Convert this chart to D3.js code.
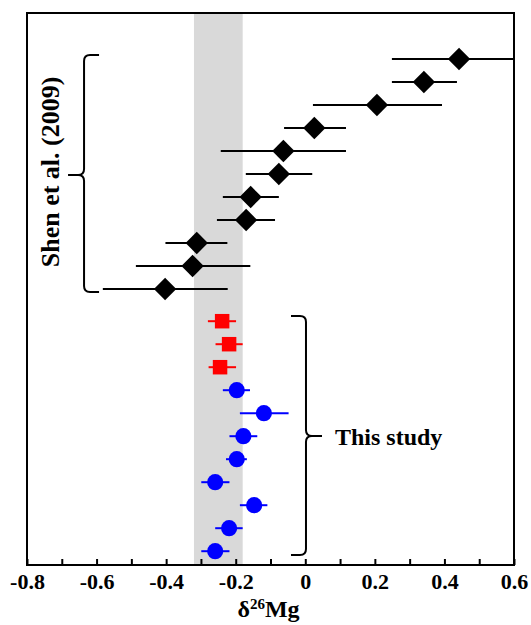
<!DOCTYPE html>
<html>
<head>
<meta charset="utf-8">
<script src="https://cdn.jsdelivr.net/npm/d3@7/dist/d3.min.js"></script>
<style>
  body { margin: 0; background: #fff; }
  text { font-family: "Liberation Serif", "Times New Roman", serif; font-weight: bold; }
</style>
</head>
<body>
<div id="main-container"></div>
<script>
// DATA (row = vertical slot, top to bottom)
const shenRows = [1, 2, 3, 4, 5, 6, 7, 8, 9, 10, 11];
const shenMean = [0.442, 0.341, 0.206, 0.026, -0.063, -0.076, -0.157, -0.170, -0.312, -0.324, -0.403];
const shenLow  = [0.249, 0.249, 0.022, -0.061, -0.243, -0.171, -0.237, -0.254, -0.402, -0.487, -0.582];
const shenHigh = [0.640, 0.436, 0.393, 0.117, 0.117, 0.020, -0.076, -0.087, -0.224, -0.158, -0.223];

const squareRows = [12.4, 13.4, 14.4];
const squareMean = [-0.239, -0.219, -0.245];
const squareLow  = [-0.280, -0.258, -0.278];
const squareHigh = [-0.199, -0.180, -0.199];

const circleRows = [15.4, 16.4, 17.4, 18.4, 19.4, 20.4, 21.4, 22.4];
const circleMean = [-0.197, -0.119, -0.178, -0.197, -0.259, -0.147, -0.219, -0.259];
const circleLow  = [-0.237, -0.188, -0.218, -0.228, -0.299, -0.188, -0.259, -0.299];
const circleHigh = [-0.159, -0.048, -0.138, -0.168, -0.218, -0.109, -0.180, -0.218];

const band = [-0.32, -0.18];
const xTicks = [-0.8, -0.7, -0.6, -0.5, -0.4, -0.3, -0.2, -0.1, 0, 0.1, 0.2, 0.3, 0.4, 0.5, 0.6];
const xLabels = ["-0.8", "", "-0.6", "", "-0.4", "", "-0.2", "", "0", "", "0.2", "", "0.4", "", "0.6"];

// bracket annotations: [x, topRow, midRow, bottomRow]
const shenBracket = [-0.636, 0.83, 6.04, 11.13];
const studyBracket = [0.002, 12.17, 17.39, 22.57];

// CONSTANTS
const margin = {top: 13, right: 17, bottom: 60, left: 27},
    width = 531 - margin.left - margin.right,
    height = 625 - margin.top - margin.bottom;

const svg = d3.select("#main-container")
    .append("svg")
        .attr("width", 531)
        .attr("height", 625)
    .append("g")
        .attr("transform", `translate(${margin.left}, ${margin.top})`);

const x = d3.scaleLinear().domain([-0.8, 0.6]).range([0, width]);
const y = d3.scaleLinear().domain([-1, 23]).range([0, height]);

svg.append("clipPath")
    .attr("id", "plot-clip")
  .append("rect")
    .attr("width", width)
    .attr("height", height);

const plot = svg.append("g").attr("clip-path", "url(#plot-clip)");

// grey band
plot.append("rect")
    .attr("x", x(band[0]))
    .attr("y", 0)
    .attr("width", x(band[1]) - x(band[0]))
    .attr("height", height)
    .attr("fill", "#d9d9d9");

function drawSeries(rows, mean, low, high, colour, shape, rot) {
    const data = rows.map((r, i) => ({row: r, mean: mean[i], low: low[i], high: high[i]}));
    plot.selectAll(null)
        .data(data)
        .enter()
        .append("line")
            .attr("x1", (d) => x(d.low))
            .attr("x2", (d) => x(d.high))
            .attr("y1", (d) => y(d.row))
            .attr("y2", (d) => y(d.row))
            .attr("stroke", colour)
            .attr("stroke-width", 2);
    plot.selectAll(null)
        .data(data)
        .enter()
        .append("path")
            .attr("d", shape)
            .attr("transform", (d) => `translate(${x(d.mean)}, ${y(d.row)})` + (rot ? " rotate(45)" : ""))
            .attr("fill", colour);
}

drawSeries(shenRows, shenMean, shenLow, shenHigh, "#000", d3.symbol(d3.symbolSquare, 250)(), true);
drawSeries(squareRows, squareMean, squareLow, squareHigh, "#ff0000", d3.symbol(d3.symbolSquare, 210)(), false);
drawSeries(circleRows, circleMean, circleLow, circleHigh, "#0000ff", d3.symbol(d3.symbolCircle, 205)(), false);

// axis
const xAxis = svg.append("g")
    .attr("transform", `translate(0, ${height})`)
    .call(d3.axisBottom(x)
        .tickValues(xTicks)
        .tickSize(-6)
        .tickPadding(8)
        .tickFormat((d, i) => xLabels[i]));
xAxis.select(".domain").remove();
xAxis.selectAll(".tick line").attr("stroke", "#000").attr("stroke-width", 2);
xAxis.selectAll("text")
    .style("font-size", "22px")
    .attr("fill", "#000");

// frame
svg.append("rect")
    .attr("width", width)
    .attr("height", height)
    .attr("fill", "none")
    .attr("stroke", "#000")
    .attr("stroke-width", 2);

// x title
const title = svg.append("text")
    .attr("x", width / 2 - 2)
    .attr("y", height + 52)
    .attr("text-anchor", "middle")
    .style("font-size", "24px");
title.append("tspan").text("δ");
title.append("tspan").attr("dy", -8).style("font-size", "15px").text("26");
title.append("tspan").attr("dy", 8).text("Mg");

// brackets
function bracket(b, dir) {
    const bx = x(b[0]), t = y(b[1]), m = y(b[2]), bt = y(b[3]);
    const r = 6, arm = 15 * dir, stub = 16 * dir;
    const p = d3.path();
    p.moveTo(bx + arm, t);
    p.lineTo(bx + r * dir, t);
    p.quadraticCurveTo(bx, t, bx, t + r);
    p.lineTo(bx, m - r);
    p.quadraticCurveTo(bx, m, bx - r * dir, m);
    p.lineTo(bx - stub, m);
    p.moveTo(bx - r * dir, m);
    p.quadraticCurveTo(bx, m, bx, m + r);
    p.lineTo(bx, bt - r);
    p.quadraticCurveTo(bx, bt, bx + r * dir, bt);
    p.lineTo(bx + arm, bt);
    svg.append("path")
        .attr("d", p.toString())
        .attr("fill", "none")
        .attr("stroke", "#000")
        .attr("stroke-width", 2);
}
bracket(shenBracket, 1);
bracket(studyBracket, -1);

svg.append("text")
    .attr("transform", `translate(${x(shenBracket[0]) - 25}, ${y(shenBracket[2]) - 3}) rotate(-90)`)
    .attr("text-anchor", "middle")
    .style("font-size", "26px")
    .text("Shen et al. (2009)");

svg.append("text")
    .attr("x", x(studyBracket[0]) + 29)
    .attr("y", y(studyBracket[2]) + 9)
    .style("font-size", "24px")
    .text("This study");
</script>
</body>
</html>
